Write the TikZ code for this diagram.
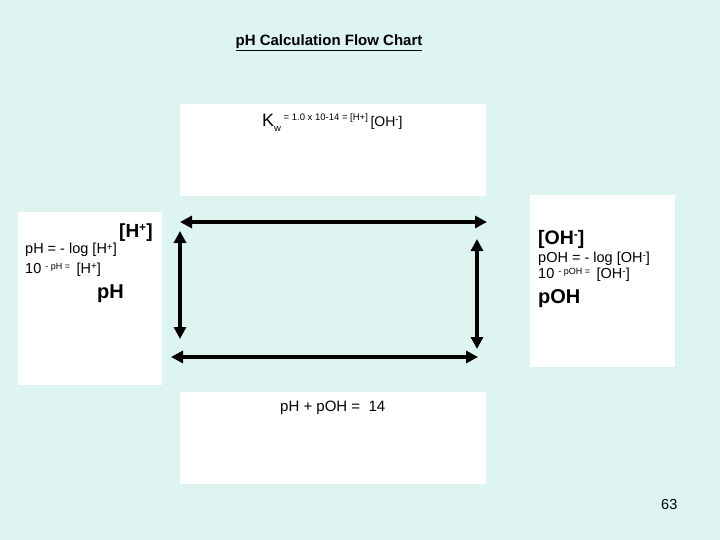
\documentclass[tikz,border=0pt]{standalone}
\usepackage{fontspec}
\setmainfont{Liberation Sans}
\usetikzlibrary{arrows.meta}
\definecolor{bg}{HTML}{DDF4F0}
\tikzset{
  panel/.style={fill=white, draw=none},
  dbl/.style={line width=4pt, {Triangle[length=12pt,width=12pt]}-{Triangle[length=12pt,width=12pt]}},
  txt/.style={inner sep=0pt, anchor=base west},
}
\newcommand{\fs}[1]{\fontsize{#1}{#1}\selectfont}
\begin{document}
\begin{tikzpicture}[x=1pt,y=-1pt]
\fill[bg] (0,0) rectangle (720,540);
\useasboundingbox (0,0) rectangle (720,540);
% panels
\fill[panel] (180,104) rectangle (486,196);
\fill[panel] (18,212) rectangle (162,385);
\fill[panel] (530,195) rectangle (675,367);
\fill[panel] (180,392) rectangle (486,484);
% title
\node[txt, anchor=base] (title) at (329,46) {\fs{15}\bfseries\underline{pH Calculation Flow Chart}};
% Kw
\node[txt] (kw) at (262,127) {\fs{18}K\raisebox{-5pt}{\fs{9.5}w}\fs{9.5}\raisebox{6pt}{ = 1.0 x 10-14 = [H+] }\fs{14}[OH\raisebox{4pt}{\fs{9.5}-}]};
% left
\node[txt] (hplus) at (119,237) {\fs{19}\bfseries [H\raisebox{6pt}{\fs{12}+}]};
\node[txt] (phdef) at (25,254) {\fs{14.5}pH = - log [H\raisebox{4pt}{\fs{10}+}]};
\node[txt] (phinv) at (25,273) {\fs{14.5}10 \raisebox{4pt}{\fs{9}- pH = } [H\raisebox{4pt}{\fs{10}+}]};
\node[txt] (ph) at (97,298) {\fs{20}\bfseries pH};
% right
\node[txt] (ohminus) at (538,244) {\fs{19.5}\bfseries [OH\raisebox{6pt}{\fs{12}-}]};
\node[txt] (pohdef) at (538,262) {\fs{14.5}pOH = - log [OH\raisebox{4pt}{\fs{10}-}]};
\node[txt] (pohinv) at (538,278) {\fs{14.5}10 \raisebox{4pt}{\fs{9}- pOH = } [OH\raisebox{4pt}{\fs{10}-}]};
\node[txt] (poh) at (538,303) {\fs{20}\bfseries pOH};
% bottom
\node[txt] (sum) at (280,411) {\fs{15}pH + pOH = \ 14};
% page number
\node[txt] (pg) at (661,509) {\fs{14.5}63};
% arrows
\coordinate (tl) at (180,222);
\coordinate (tr) at (487,222);
\coordinate (lt) at (180,231);
\coordinate (lb) at (180,339);
\coordinate (rt) at (477,239);
\coordinate (rb) at (477,349);
\coordinate (bl) at (171,357);
\coordinate (br) at (478,357);
\draw[dbl] (tl) -- (tr);
\draw[dbl] (lt) -- (lb);
\draw[dbl] (rt) -- (rb);
\draw[dbl] (bl) -- (br);
\end{tikzpicture}
\end{document}
